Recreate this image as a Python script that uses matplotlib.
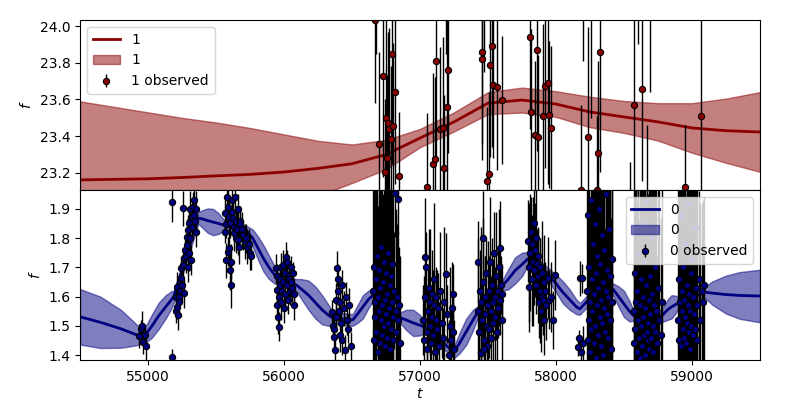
import matplotlib
matplotlib.use('AGG')
import numpy as np
import matplotlib.pyplot as plt

# band 1 (top): mean and 1-sigma width on a coarse grid
t_top = [54500, 54750, 55000, 55250, 55500, 55750, 56000, 56250, 56500, 56750, 57000,
         57250, 57500, 57750, 58000, 58250, 58500, 58750, 59000, 59250, 59500]
mean_top = [23.162, 23.165, 23.168, 23.175, 23.184, 23.192, 23.205, 23.225, 23.25, 23.30, 23.39,
            23.478, 23.58, 23.597, 23.575, 23.532, 23.505, 23.478, 23.445, 23.43, 23.423]
std_top = [0.428, 0.395, 0.362, 0.325, 0.291, 0.253, 0.205, 0.15, 0.105, 0.08, 0.05,
           0.052, 0.06, 0.068, 0.07, 0.083, 0.087, 0.102, 0.135, 0.175, 0.217]

# band 0 (bottom)
t_bot = [54500, 54650, 54800, 54900, 54950, 54990, 55030, 55080, 55130, 55170, 55190,
         55370, 55400, 55440, 55480, 55520, 55555, 55730, 55770, 55810, 55850, 55890,
         55930, 55950, 56090, 56130, 56180, 56230, 56280, 56330, 56360, 56505, 56540,
         56580, 56620, 56655, 56860, 56900, 56950, 57000, 57035, 57250, 57290, 57340,
         57390, 57425, 57610, 57650, 57700, 57750, 57790, 57810, 57934, 58000, 58050,
         58100, 58150, 58176, 58230, 58420, 58460, 58500, 58540, 58566, 58670, 58790,
         58820, 58850, 58880, 58900, 59096, 59150, 59250, 59350, 59500]
mean_bot = [1.531, 1.512, 1.49, 1.472, 1.463, 1.475, 1.50, 1.535, 1.565, 1.588, 1.60,
            1.869, 1.866, 1.86, 1.855, 1.85, 1.845, 1.821, 1.80, 1.765, 1.73, 1.70,
            1.675, 1.664, 1.64, 1.625, 1.605, 1.58, 1.555, 1.535, 1.527, 1.52, 1.54,
            1.565, 1.59, 1.605, 1.527, 1.52, 1.51, 1.502, 1.496, 1.41, 1.44, 1.48,
            1.52, 1.547, 1.64, 1.66, 1.69, 1.71, 1.728, 1.732, 1.681, 1.645, 1.615,
            1.59, 1.565, 1.558, 1.585, 1.625, 1.60, 1.575, 1.55, 1.537, 1.503, 1.54,
            1.555, 1.565, 1.573, 1.578, 1.615, 1.612, 1.607, 1.604, 1.602]
std_bot = [0.095, 0.088, 0.065, 0.04, 0.025, 0.03, 0.04, 0.045, 0.04, 0.03, 0.02,
           0.02, 0.03, 0.042, 0.045, 0.035, 0.02, 0.02, 0.03, 0.04, 0.045, 0.04,
           0.03, 0.02, 0.02, 0.035, 0.05, 0.055, 0.05, 0.035, 0.02, 0.02, 0.03,
           0.04, 0.03, 0.02, 0.02, 0.035, 0.045, 0.035, 0.02, 0.02, 0.035, 0.045,
           0.035, 0.02, 0.02, 0.035, 0.045, 0.04, 0.025, 0.02, 0.02, 0.03, 0.038,
           0.035, 0.025, 0.02, 0.02, 0.02, 0.035, 0.045, 0.035, 0.02, 0.02, 0.025,
           0.035, 0.04, 0.03, 0.02, 0.02, 0.04, 0.065, 0.08, 0.09]

# observations (t, f, err)
obs1 = [(56669, 24.033, 0.45), (56701, 23.356, 0.50), (56730, 23.728, 0.55), (56743, 23.204, 0.40),
        (56750, 23.498, 0.60), (56758, 23.283, 0.45), (56767, 23.47, 0.50), (56775, 23.438, 0.55),
        (56785, 23.385, 0.40), (56792, 23.846, 0.60), (56798, 23.456, 0.45), (56816, 23.639, 0.50),
        (56848, 23.182, 0.35), (57052, 23.124, 0.40), (57098, 23.247, 0.50), (57110, 23.275, 0.45),
        (57118, 23.81, 0.55), (57147, 23.438, 0.45), (57171, 23.443, 0.50), (57179, 23.226, 0.40),
        (57201, 23.557, 0.50), (57208, 23.76, 0.45), (57454, 23.82, 0.55), (57458, 23.86, 0.50),
        (57490, 23.158, 0.40), (57509, 23.193, 0.45), (57515, 23.788, 0.50), (57532, 23.89, 0.55),
        (57539, 23.679, 0.40), (57568, 23.666, 0.45), (57601, 23.596, 0.35), (57809, 23.938, 0.50),
        (57816, 23.534, 0.45), (57846, 23.407, 0.40), (57863, 23.869, 0.55), (57870, 23.394, 0.45),
        (57906, 23.51, 0.50), (57919, 23.675, 0.45), (57939, 23.688, 0.55), (57951, 23.516, 0.40),
        (57963, 23.443, 0.45), (58184, 23.109, 0.46), (58238, 23.394, 0.60), (58299, 23.109, 0.40),
        (58311, 23.311, 0.50), (58324, 23.857, 0.65), (58576, 23.57, 0.65), (58634, 23.657, 0.50),
        (58951, 23.122, 0.34), (59066, 23.51, 0.65),
        (56680, 24.30, 0.45), (57190, 24.25, 0.40), (57470, 24.30, 0.55), (58198, 24.35, 0.54),
        (58260, 24.40, 0.90), (58603, 24.30, 0.40), (58691, 24.40, 0.76), (58544, 22.90, 0.36),
        (58667, 22.95, 0.51)]

season_a = [(54935, 1.465, 0.04), (54945, 1.49, 0.03), (54955, 1.50, 0.05), (54965, 1.445, 0.04),
            (54975, 1.47, 0.03), (54985, 1.43, 0.05)]
season_b = [(55174, 1.392, 0.03), (55178, 1.925, 0.07), (55205, 1.55, 0.04), (55208, 1.60, 0.04),
            (55211, 1.634, 0.05), (55215, 1.565, 0.04), (55220, 1.537, 0.05), (55225, 1.60, 0.04),
            (55230, 1.58, 0.05), (55235, 1.62, 0.04), (55240, 1.663, 0.05), (55245, 1.697, 0.04),
            (55250, 1.64, 0.06), (55255, 1.708, 0.05), (55260, 1.903, 0.06), (55262, 1.731, 0.04),
            (55268, 1.612, 0.05), (55272, 1.76, 0.05), (55278, 1.74, 0.06), (55284, 1.777, 0.05),
            (55288, 1.805, 0.06), (55292, 1.70, 0.05), (55296, 1.828, 0.05), (55300, 1.749, 0.06),
            (55305, 1.851, 0.05), (55309, 1.90, 0.06), (55312, 1.80, 0.05), (55318, 1.725, 0.05),
            (55322, 1.874, 0.06), (55326, 1.84, 0.05), (55330, 1.908, 0.05), (55335, 1.931, 0.06),
            (55340, 1.88, 0.05), (55345, 1.86, 0.05), (55350, 1.90, 0.06), (55355, 1.82, 0.05)]
season_c = [(55565, 1.886, 0.05), (55568, 1.822, 0.04), (55570, 1.725, 0.06), (55575, 1.85, 0.05),
            (55580, 1.942, 0.05), (55585, 1.908, 0.06), (55590, 1.754, 0.05), (55594, 1.874, 0.05),
            (55598, 1.766, 0.06), (55602, 1.691, 0.07), (55606, 1.851, 0.05), (55610, 1.72, 0.06),
            (55612, 1.64, 0.08), (55615, 1.931, 0.05), (55620, 1.89, 0.05), (55625, 1.87, 0.06),
            (55630, 1.84, 0.05), (55635, 1.817, 0.06), (55640, 1.942, 0.05), (55645, 1.86, 0.05),
            (55650, 1.80, 0.05), (55655, 1.83, 0.06), (55660, 1.794, 0.05), (55665, 1.90, 0.05),
            (55670, 1.77, 0.06), (55675, 1.86, 0.05), (55680, 1.85, 0.05), (55690, 1.83, 0.06),
            (55700, 1.81, 0.05), (55710, 1.79, 0.06), (55720, 1.80, 0.05), (55730, 1.77, 0.06),
            (55740, 1.78, 0.05), (55750, 1.75, 0.06), (55760, 1.74, 0.05)]
season_d = [(55940, 1.697, 0.05), (55945, 1.67, 0.04), (55948, 1.571, 0.05), (55952, 1.623, 0.05),
            (55956, 1.531, 0.06), (55960, 1.497, 0.05), (55964, 1.60, 0.04), (55968, 1.64, 0.05),
            (55972, 1.66, 0.05), (55976, 1.58, 0.06), (55980, 1.70, 0.05), (55985, 1.62, 0.05),
            (55990, 1.65, 0.04), (55995, 1.708, 0.05), (56000, 1.56, 0.05), (56005, 1.68, 0.05),
            (56010, 1.61, 0.06), (56015, 1.737, 0.05), (56020, 1.64, 0.05), (56025, 1.72, 0.04),
            (56030, 1.59, 0.05), (56035, 1.67, 0.05), (56040, 1.66, 0.06), (56045, 1.62, 0.05),
            (56050, 1.70, 0.04), (56055, 1.65, 0.05), (56060, 1.63, 0.05), (56065, 1.68, 0.04),
            (56070, 1.61, 0.05), (56075, 1.57, 0.05)]
season_e = [(56350, 1.548, 0.04), (56360, 1.50, 0.05), (56365, 1.463, 0.05), (56370, 1.49, 0.04),
            (56375, 1.417, 0.05), (56380, 1.53, 0.05), (56385, 1.588, 0.06), (56390, 1.697, 0.06),
            (56395, 1.66, 0.05), (56400, 1.62, 0.05), (56405, 1.55, 0.05), (56410, 1.47, 0.06),
            (56415, 1.58, 0.05), (56420, 1.51, 0.05), (56425, 1.64, 0.05), (56430, 1.45, 0.05),
            (56440, 1.56, 0.06), (56450, 1.417, 0.05), (56455, 1.60, 0.05), (56460, 1.52, 0.05),
            (56470, 1.49, 0.05), (56480, 1.57, 0.06), (56490, 1.43, 0.05)]
season_f = [(56655, 1.62, 0.35), (56660, 1.45, 0.45), (56664, 1.70, 0.30), (56668, 1.53, 0.55),
            (56672, 1.58, 0.25), (56676, 1.66, 0.40), (56680, 1.48, 0.50), (56684, 1.74, 0.30),
            (56688, 1.41, 0.50), (56692, 1.60, 0.20), (56696, 1.55, 0.40), (56700, 1.69, 0.35),
            (56704, 1.44, 0.60), (56708, 1.63, 0.25), (56712, 1.52, 0.45), (56716, 1.77, 0.30),
            (56720, 1.57, 0.20), (56724, 1.47, 0.50), (56728, 1.65, 0.30), (56732, 1.50, 0.40),
            (56736, 1.72, 0.45), (56740, 1.43, 0.55), (56744, 1.59, 0.20), (56748, 1.68, 0.35),
            (56752, 1.54, 0.50), (56756, 1.46, 0.30), (56760, 1.61, 0.55), (56764, 1.75, 0.40),
            (56768, 1.51, 0.30), (56772, 1.56, 0.45), (56776, 1.64, 0.25), (56780, 1.42, 0.60),
            (56784, 1.67, 0.35), (56788, 1.49, 0.40), (56792, 1.58, 0.25), (56796, 1.71, 0.35),
            (56800, 1.53, 0.45), (56805, 1.45, 0.30), (56810, 1.62, 0.20), (56815, 1.955, 0.15),
            (56820, 1.55, 0.35), (56825, 1.48, 0.40), (56830, 1.60, 0.25), (56835, 1.934, 0.12),
            (56840, 1.52, 0.30), (56845, 1.57, 0.20), (56850, 1.44, 0.30)]
season_g = [(57025, 1.52, 0.12), (57030, 1.45, 0.22), (57035, 1.60, 0.10), (57040, 1.737, 0.20),
            (57045, 1.70, 0.12), (57050, 1.48, 0.10), (57055, 1.42, 0.20), (57060, 1.55, 0.14),
            (57065, 1.63, 0.20), (57070, 1.50, 0.10), (57075, 1.58, 0.25), (57080, 1.44, 0.12),
            (57085, 1.61, 0.15), (57090, 1.53, 0.10), (57095, 1.47, 0.22), (57100, 1.57, 0.12),
            (57105, 1.66, 0.26), (57110, 1.41, 0.10), (57115, 1.52, 0.14), (57120, 1.60, 0.10),
            (57125, 1.49, 0.20), (57130, 1.56, 0.12), (57140, 1.43, 0.15), (57150, 1.62, 0.20),
            (57160, 1.51, 0.12), (57170, 1.46, 0.10), (57180, 1.58, 0.26), (57190, 1.677, 0.14),
            (57200, 1.54, 0.10), (57210, 1.40, 0.12), (57220, 1.50, 0.20), (57228, 1.45, 0.10),
            (57235, 1.56, 0.16), (57240, 1.61, 0.10), (57245, 1.48, 0.14), (57250, 1.42, 0.10)]
season_h = [(57425, 1.72, 0.14), (57430, 1.55, 0.25), (57435, 1.48, 0.10), (57440, 1.62, 0.14),
            (57445, 1.41, 0.10), (57450, 1.58, 0.26), (57455, 1.52, 0.12), (57460, 1.80, 0.16),
            (57465, 1.65, 0.22), (57470, 1.45, 0.10), (57475, 1.60, 0.14), (57480, 1.54, 0.20),
            (57485, 1.68, 0.12), (57490, 1.50, 0.10), (57495, 1.43, 0.14), (57500, 1.57, 0.22),
            (57505, 1.62, 0.12), (57510, 1.49, 0.10), (57515, 1.72, 0.22), (57520, 1.55, 0.12),
            (57525, 1.46, 0.10), (57530, 1.64, 0.16), (57535, 1.58, 0.10), (57540, 1.51, 0.22),
            (57545, 1.75, 0.14), (57550, 1.60, 0.10), (57555, 1.53, 0.16), (57560, 1.67, 0.22),
            (57565, 1.48, 0.10), (57570, 1.62, 0.14), (57575, 1.56, 0.10), (57580, 1.70, 0.20),
            (57585, 1.59, 0.12), (57590, 1.766, 0.16), (57595, 1.64, 0.10), (57600, 1.52, 0.14),
            (57605, 1.61, 0.10), (57452, 1.407, 0.10), (57472, 1.42, 0.12)]
season_i = [(57795, 1.79, 0.14), (57800, 1.70, 0.22), (57805, 1.634, 0.12), (57810, 1.75, 0.20),
            (57815, 1.82, 0.12), (57820, 1.66, 0.16), (57825, 1.78, 0.10), (57830, 1.72, 0.22),
            (57835, 1.851, 0.14), (57840, 1.69, 0.12), (57845, 1.76, 0.16), (57850, 1.64, 0.10),
            (57855, 1.80, 0.20), (57860, 1.71, 0.12), (57865, 1.67, 0.16), (57870, 1.74, 0.10),
            (57875, 1.58, 0.12), (57880, 1.62, 0.18), (57885, 1.70, 0.10), (57890, 1.55, 0.14),
            (57895, 1.68, 0.18), (57900, 1.60, 0.10), (57905, 1.588, 0.12), (57910, 1.65, 0.16),
            (57915, 1.52, 0.12), (57920, 1.62, 0.10), (57930, 1.57, 0.12), (57940, 1.663, 0.14),
            (57950, 1.59, 0.10), (57960, 1.60, 0.12), (57975, 1.52, 0.10), (57993, 1.674, 0.12)]
season_j = [(58160, 1.428, 0.03), (58170, 1.457, 0.03), (58178, 1.663, 0.06), (58190, 1.663, 0.05),
            (58185, 1.41, 0.05), (58200, 1.44, 0.06)]
season_k = [(58228, 1.62, 0.5), (58232, 1.45, 0.4), (58236, 1.88, 0.6), (58240, 1.52, 0.3),
            (58244, 1.70, 0.7), (58248, 1.41, 0.5), (58252, 1.58, 0.35), (58256, 1.93, 0.6),
            (58260, 1.49, 0.45), (58264, 1.66, 0.8), (58268, 1.55, 0.3), (58272, 1.78, 0.5),
            (58276, 1.44, 0.6), (58280, 1.61, 0.4), (58284, 1.85, 0.7), (58288, 1.50, 0.35),
            (58292, 1.68, 0.5), (58296, 1.39, 0.6), (58300, 1.57, 0.45), (58304, 1.74, 0.3),
            (58308, 1.47, 0.8), (58312, 1.63, 0.5), (58316, 1.90, 0.6), (58320, 1.53, 0.4),
            (58324, 1.71, 0.35), (58328, 1.43, 0.5), (58332, 1.59, 0.7), (58336, 1.81, 0.45),
            (58340, 1.51, 0.3), (58344, 1.65, 0.6), (58348, 1.40, 0.5), (58352, 1.56, 0.4),
            (58356, 1.76, 0.7), (58360, 1.48, 0.35), (58364, 1.62, 0.5), (58368, 1.95, 0.6),
            (58372, 1.54, 0.45), (58376, 1.69, 0.3), (58380, 1.46, 0.55), (58384, 1.60, 0.4),
            (58390, 1.83, 0.6), (58395, 1.52, 0.5), (58400, 1.67, 0.35), (58405, 1.42, 0.45),
            (58410, 1.58, 0.4), (58415, 1.73, 0.5)]
season_l = [(58570, 1.55, 0.5), (58574, 1.44, 0.4), (58578, 1.68, 0.6), (58582, 1.49, 0.35),
            (58586, 1.90, 0.7), (58590, 1.58, 0.5), (58594, 1.41, 0.45), (58598, 1.62, 0.3),
            (58602, 1.52, 0.6), (58606, 1.75, 0.5), (58610, 1.46, 0.4), (58614, 1.57, 0.7),
            (58618, 1.39, 0.5), (58622, 1.66, 0.35), (58626, 1.50, 0.6), (58630, 1.85, 0.45),
            (58634, 1.43, 0.5), (58638, 1.60, 0.4), (58642, 1.53, 0.7), (58646, 1.47, 0.35),
            (58650, 1.72, 0.5), (58654, 1.40, 0.6), (58658, 1.56, 0.45), (58662, 1.64, 0.3),
            (58666, 1.48, 0.55), (58670, 1.93, 0.6), (58674, 1.51, 0.4), (58678, 1.45, 0.5),
            (58682, 1.59, 0.7), (58686, 1.42, 0.35), (58690, 1.67, 0.5), (58694, 1.54, 0.45),
            (58698, 1.80, 0.6), (58702, 1.46, 0.4), (58706, 1.61, 0.5), (58710, 1.50, 0.35),
            (58715, 1.41, 0.6), (58720, 1.57, 0.45), (58725, 1.70, 0.5), (58730, 1.48, 0.4),
            (58735, 1.55, 0.55), (58740, 1.44, 0.3), (58750, 1.63, 0.5), (58760, 1.52, 0.45),
            (58770, 1.47, 0.4), (58780, 1.58, 0.5)]
season_m = [(58900, 1.52, 0.5), (58904, 1.45, 0.35), (58908, 1.66, 0.6), (58912, 1.58, 0.45),
            (58916, 1.43, 0.5), (58920, 1.88, 0.7), (58924, 1.55, 0.4), (58928, 1.62, 0.5),
            (58932, 1.49, 0.6), (58936, 1.70, 0.35), (58940, 1.46, 0.5), (58944, 1.59, 0.45),
            (58948, 1.53, 0.6), (58952, 1.78, 0.4), (58956, 1.44, 0.5), (58960, 1.64, 0.35),
            (58964, 1.51, 0.6), (58968, 1.57, 0.45), (58972, 1.92, 0.7), (58976, 1.48, 0.5),
            (58980, 1.61, 0.4), (58984, 1.42, 0.55), (58988, 1.55, 0.5), (58992, 1.68, 0.35),
            (58996, 1.50, 0.6), (59000, 1.73, 0.45), (59005, 1.47, 0.5), (59010, 1.60, 0.4),
            (59015, 1.54, 0.6), (59020, 1.84, 0.5), (59025, 1.49, 0.35), (59030, 1.63, 0.45),
            (59035, 1.57, 0.5), (59040, 1.45, 0.4), (59050, 1.66, 0.3), (59060, 1.52, 0.4),
            (59070, 1.62, 0.3), (59080, 1.58, 0.35), (59090, 1.64, 0.3)]
obs0 = (season_a + season_b + season_c + season_d + season_e + season_f + season_g
        + season_h + season_i + season_j + season_k + season_l + season_m)


def draw_band(ax, t, mean, std, obs, color, label, loc):
    t = np.array(t)
    mean = np.array(mean)
    std = np.array(std)
    obs = np.array(obs)
    band = ax.fill_between(t, mean - std, mean + std, color=color, alpha=0.5, label=label)
    line, = ax.plot(t, mean, color=color, lw=2, label=label)
    pts = ax.errorbar(obs[:, 0], obs[:, 1], yerr=obs[:, 2], fmt='o', ms=4.5, mfc=color, mec='k',
                      mew=0.8, ecolor='k', elinewidth=1.0, label=f'{label} observed')
    ax.legend(handles=[line, band, pts], loc=loc)


fig, (ax1, ax0) = plt.subplots(2, 1, sharex=True, figsize=(8, 4))
fig.subplots_adjust(left=0.1, right=0.95, top=0.95, bottom=0.1, hspace=0)

draw_band(ax1, t_top, mean_top, std_top, obs1, 'darkred', '1', 'upper left')
ax1.set_ylim(23.107, 24.033)
ax1.set_ylabel('$f$')

draw_band(ax0, t_bot, mean_bot, std_bot, obs0, 'navy', '0', 'upper right')
ax0.set_ylim(1.383, 1.965)
ax0.set_ylabel('$f$')
ax0.set_xlabel('$t$', labelpad=2)

ax0.set_xlim(54500, 59500)
ax0.set_xticks([55000, 56000, 57000, 58000, 59000])

plt.savefig('out.png', dpi=100)
